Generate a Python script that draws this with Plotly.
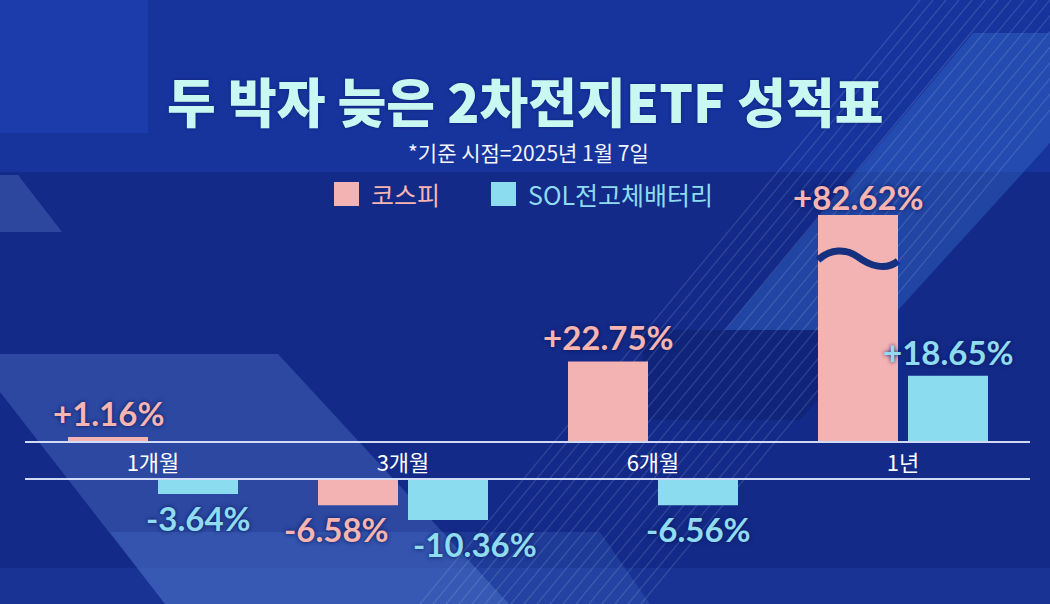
import plotly.graph_objects as go

# ---------------- data ----------------
categories = ["1개월", "3개월", "6개월", "1년"]
series_names = ["코스피", "SOL전고체배터리"]
kospi = [1.16, -6.58, 22.75, 82.62]
sol_battery = [-3.64, -10.36, -6.56, 18.65]

title_text = "두 박자 늦은 2차전지ETF 성적표"
subtitle_text = "*기준 시점=2025년 1월 7일"

# ---------------- style / geometry ----------------
W, H = 1050, 604
PINK, CYAN = "#f4b3b3", "#8bdcef"
PINK_TXT, CYAN_TXT = "#f7b4b0", "#8fdcf1"
LINE_COLOR = "rgba(225,232,255,0.92)"
KR_FONT = "Noto Sans CJK KR, Noto Sans, sans-serif"
NUM_FONT = "Lato, Noto Sans, sans-serif"


def fx(x):
    return x / W


def fy(y):
    return 1 - y / H


X_LEFT, X_RIGHT = 25, 1030
FIRST_CENTER, STEP = 153, 250
UP_TOP, UP_BASE = 215, 441
LO_TOP, LO_BOT = 480, 560
UP_SCALE, LO_SCALE = 3.5, 3.85  # px per percentage point

x_range = [(X_LEFT - FIRST_CENTER) / STEP, (X_RIGHT - FIRST_CENTER) / STEP]
up_range = [0, (UP_BASE - UP_TOP) / UP_SCALE]
lo_range = [-(LO_BOT - LO_TOP) / LO_SCALE, 0]

BAR_W = 80 / STEP
GAP = 10 / STEP
offsets = [-(BAR_W + GAP / 2), GAP / 2]
LABEL_SHIFT = 24
CLIPPED_LABEL_SHIFT = 18
label_nudge = {(0, 1): -22 / STEP, (1, 1): 27 / STEP}

idx = list(range(len(categories)))
series = [(series_names[0], kospi, PINK, PINK_TXT), (series_names[1], sol_battery, CYAN, CYAN_TXT)]

fig = go.Figure()

for s, (name, vals, color, _) in enumerate(series):
    fig.add_trace(go.Bar(
        x=idx, y=[max(v, 0) for v in vals], name=name, width=BAR_W, offset=offsets[s],
        marker=dict(color=color, line=dict(width=0)), xaxis="x", yaxis="y",
        showlegend=False, hoverinfo="skip"))
    fig.add_trace(go.Bar(
        x=idx, y=[min(v, 0) for v in vals], name=name, width=BAR_W, offset=offsets[s],
        marker=dict(color=color, line=dict(width=0)), xaxis="x2", yaxis="y2",
        showlegend=False, hoverinfo="skip"))

annotations = []
for s, (name, vals, color, tcolor) in enumerate(series):
    for i, v in enumerate(vals):
        xc = i + offsets[s] + BAR_W / 2 + label_nudge.get((s, i), 0)
        if v >= 0:
            clipped = v > up_range[1]
            yref, yv = "y", min(v, up_range[1])
            shift = CLIPPED_LABEL_SHIFT if clipped else LABEL_SHIFT
        else:
            yref, yv, shift = "y2", max(v, lo_range[0]), -LABEL_SHIFT
        annotations.append(dict(
            x=xc, y=yv, xref="x", yref=yref, yshift=shift, text=f"{v:+.2f}%",
            showarrow=False, xanchor="center", yanchor="middle",
            font=dict(family=NUM_FONT, size=33, weight=700, color=tcolor,
                      shadow="0px 0px 4px rgba(8,22,90,0.95)")))

# title & subtitle
annotations.append(dict(
    x=fx(525), y=fy(100), xref="paper", yref="paper", text=title_text, showarrow=False,
    xanchor="center", yanchor="middle",
    font=dict(family=KR_FONT, size=53, weight=900, color="#c9f7f1",
              shadow="0px 0px 3px rgba(10,30,110,0.9)")))
annotations.append(dict(
    x=fx(528), y=fy(152), xref="paper", yref="paper", text=subtitle_text, showarrow=False,
    xanchor="center", yanchor="middle",
    font=dict(family=KR_FONT, size=21, color="#f2f5ff")))

# manual legend
legend_items = [(series_names[0], PINK, PINK_TXT, 334), (series_names[1], CYAN, CYAN_TXT, 491)]
shapes = []


# ---------- background decorations ----------
def poly(points, fill):
    path = "M " + " L ".join(f"{fx(x)},{fy(y)}" for x, y in points) + " Z"
    return dict(type="path", path=path, xref="paper", yref="paper", fillcolor=fill,
                line=dict(width=0), layer="below")


shapes.append(poly([(0, 0), (W, 0), (W, 172), (0, 172)], "#17339c"))
shapes.append(poly([(0, 0), (148, 0), (148, 133), (0, 133)], "#1b3caa"))
shapes.append(poly([(0, 568), (W, 568), (W, H), (0, H)], "rgba(40,80,180,0.25)"))
shapes.append(poly([(0, 175), (18, 175), (62, 232), (0, 232)], "rgba(110,140,210,0.30)"))
shapes.append(poly([(0, 354), (278, 354), (509, 604), (165, 604), (0, 392)], "rgba(110,150,225,0.28)"))
shapes.append(poly([(110, 532), (600, 532), (650, 604), (165, 604)], "rgba(90,140,230,0.18)"))
shapes.append(poly([(973, 33), (1150, 33), (880, 330), (725, 330)], "rgba(60,120,215,0.35)"))
shapes.append(poly([(640, 330), (880, 330), (800, 420), (648, 420)], "rgba(10,25,90,0.30)"))

for k in range(18):
    xb = 420 + 13 * k
    shapes.append(dict(type="line", xref="paper", yref="paper",
                       x0=fx(xb), y0=fy(H), x1=fx(xb + 500), y1=fy(0),
                       line=dict(color="rgba(200,215,255,0.16)", width=1.3), layer="below"))

for name, col, tcol, xpx in legend_items:
    shapes.append(dict(type="rect", xref="paper", yref="paper",
                       x0=fx(xpx), x1=fx(xpx + 25), y0=fy(206), y1=fy(182),
                       fillcolor=col, line=dict(width=0)))
    annotations.append(dict(x=fx(xpx + 35), y=fy(194), xref="paper", yref="paper",
                            text=name, showarrow=False, xanchor="left", yanchor="middle",
                            font=dict(family=KR_FONT, size=25, color=tcol)))

# broken-axis wave on the clipped bar
for s, (name, vals, color, _) in enumerate(series):
    for i, v in enumerate(vals):
        if v > up_range[1]:
            xl = i + offsets[s]
            w = BAR_W
            ytop = UP_TOP
            pts = [(xl, ytop + 45), (xl + 0.15 * w, ytop + 34), (xl + 0.35 * w, ytop + 33),
                   (xl + 0.5 * w, ytop + 42), (xl + 0.65 * w, ytop + 51), (xl + 0.85 * w, ytop + 56),
                   (xl + w, ytop + 46)]
            p = [(x, fy(y)) for x, y in pts]
            path = (f"M {p[0][0]},{p[0][1]} C {p[1][0]},{p[1][1]} {p[2][0]},{p[2][1]} {p[3][0]},{p[3][1]} "
                    f"C {p[4][0]},{p[4][1]} {p[5][0]},{p[5][1]} {p[6][0]},{p[6][1]}")
            shapes.append(dict(type="path", path=path, xref="x", yref="paper",
                               line=dict(color="#15307f", width=7), layer="above"))

fig.update_layout(
    width=W, height=H, margin=dict(l=0, r=0, t=0, b=0),
    paper_bgcolor="#132a88", plot_bgcolor="rgba(0,0,0,0)",
    barmode="overlay", showlegend=False,
    xaxis=dict(domain=[fx(X_LEFT), fx(X_RIGHT)], range=x_range, anchor="y",
               tickmode="array", tickvals=idx, ticktext=categories, ticks="",
               showline=True, linecolor=LINE_COLOR, linewidth=2, showgrid=False, zeroline=False,
               tickfont=dict(family=KR_FONT, size=22, color="white"), ticklabelstandoff=2,
               fixedrange=True),
    yaxis=dict(domain=[fy(UP_BASE), fy(UP_TOP)], range=up_range, visible=False, fixedrange=True),
    xaxis2=dict(domain=[fx(X_LEFT), fx(X_RIGHT)], range=x_range, anchor="y2", side="top",
                showline=True, linecolor=LINE_COLOR, linewidth=2, showticklabels=False,
                showgrid=False, zeroline=False, ticks="", fixedrange=True),
    yaxis2=dict(domain=[fy(LO_BOT), fy(LO_TOP)], range=lo_range, visible=False, fixedrange=True),
    annotations=annotations, shapes=shapes,
)

fig.write_html("out.html", config={"displayModeBar": False},
               post_script="document.body.style.margin='0';document.body.style.overflow='hidden';")
